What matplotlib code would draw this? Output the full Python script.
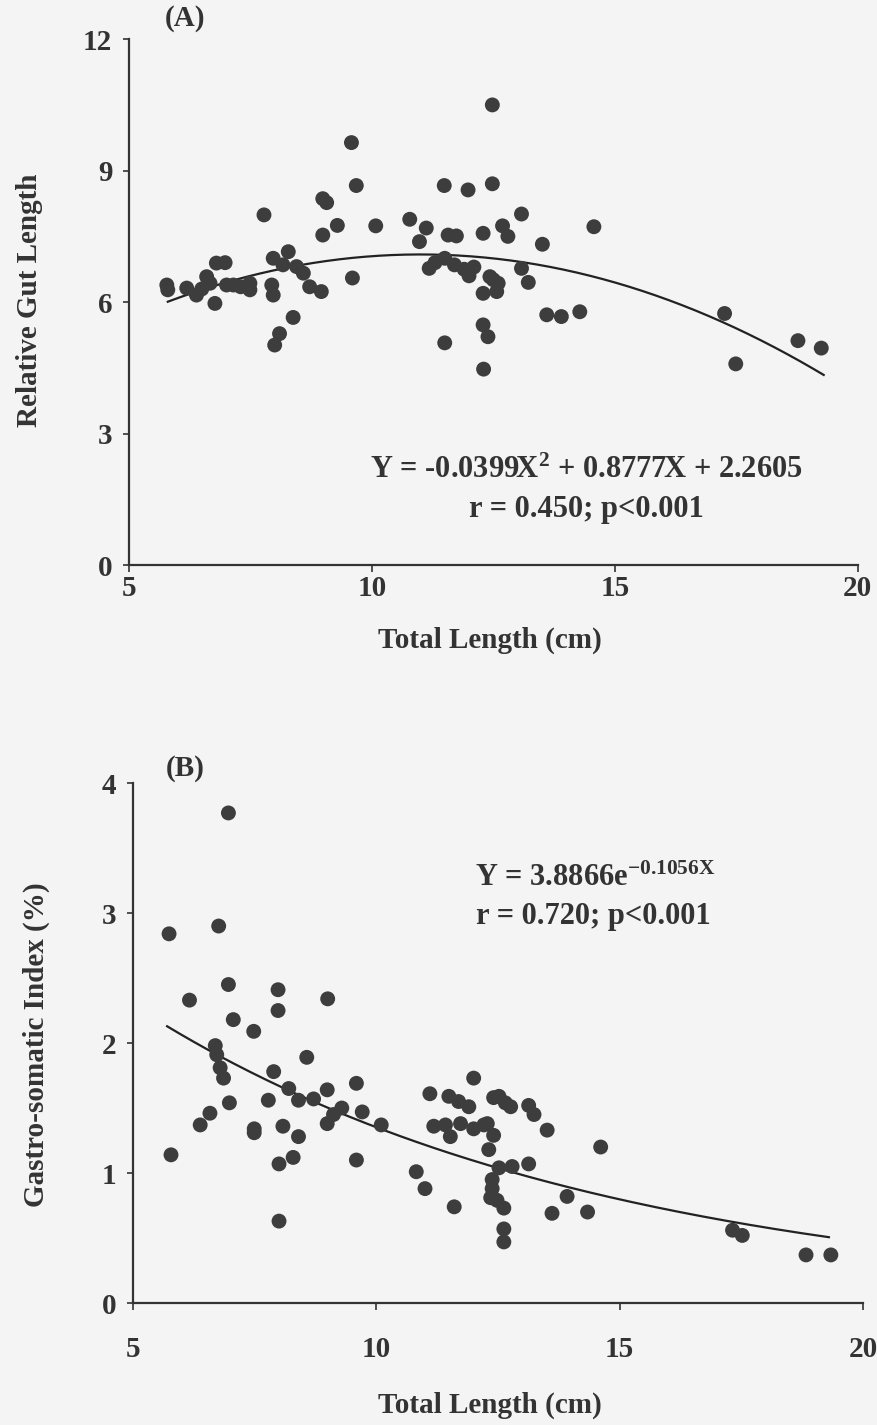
import numpy as np
import matplotlib
matplotlib.use('Agg')
import matplotlib.pyplot as plt

plt.rcParams['font.family'] = ['Liberation Serif', 'DejaVu Serif']
plt.rcParams['font.weight'] = 'bold'
plt.rcParams['mathtext.fontset'] = 'custom'
plt.rcParams['mathtext.rm'] = 'Liberation Serif:bold'
plt.rcParams['mathtext.it'] = 'Liberation Serif:bold'
plt.rcParams['mathtext.bf'] = 'Liberation Serif:bold'

# (A) relative gut length vs total length
rgl_x = [5.78, 6.19, 6.39, 6.77, 6.8, 6.98, 6.6, 6.67, 7.01, 7.15, 7.49, 7.49,
         7.94, 7.97, 7.97, 8.28, 8.17, 8.45, 8.59, 8.72, 8.96, 7.78, 8.38, 8.1, 8.0,
         9.58, 9.68, 8.99, 9.07, 9.29, 8.99, 10.08, 9.6, 10.78, 11.12, 10.98,
         11.49, 11.98, 12.48, 11.57, 11.74, 12.29, 11.18, 11.3, 11.5, 11.7, 11.9,
         12.1, 12.0, 12.48, 13.08, 12.69, 12.8, 13.51, 14.57, 13.08, 13.22, 12.43,
         12.6, 12.29, 12.57, 12.5, 13.6, 13.9, 14.28, 12.29, 12.39, 11.5, 12.3,
         17.26, 17.49, 18.77, 19.25, 5.8, 6.5, 7.3]
rgl_y = [6.39, 6.32, 6.16, 5.97, 6.89, 6.90, 6.58, 6.43, 6.39, 6.39, 6.43, 6.28,
         6.39, 6.16, 7.0, 7.15, 6.85, 6.81, 6.66, 6.35, 6.24, 7.99, 5.65, 5.28, 5.02,
         9.64, 8.66, 8.36, 8.27, 7.75, 7.53, 7.74, 6.55, 7.89, 7.69, 7.38,
         8.66, 8.56, 10.5, 7.53, 7.51, 7.57, 6.77, 6.9, 7.0, 6.85, 6.75,
         6.8, 6.6, 8.70, 8.01, 7.74, 7.5, 7.32, 7.72, 6.77, 6.45, 6.58,
         6.43, 6.2, 6.24, 6.51, 5.71, 5.67, 5.78, 5.48, 5.21, 5.07, 4.47,
         5.74, 4.59, 5.12, 4.95, 6.28, 6.3, 6.35]

# (B) gastro-somatic index vs total length
gsi_x = [6.96, 5.74, 6.76, 6.96, 7.98, 7.98, 9.0, 6.16, 7.06, 7.48, 6.69, 6.72,
         6.79, 6.86, 8.57, 7.89, 8.2, 8.4, 8.71, 8.99, 9.59, 7.78, 6.98, 6.58, 6.38,
         7.49, 7.49, 8.08, 8.4, 8.99, 9.12, 9.29, 9.71, 10.1, 5.78, 8.29, 8.0, 9.59,
         8.0, 10.82, 11.0, 11.6, 11.1, 12.0, 11.49, 11.69, 11.9, 11.18, 11.42, 11.52,
         11.73, 12.0, 12.21, 12.31, 12.41, 12.52, 12.65, 12.76, 13.13, 13.24, 13.51,
         14.61, 12.28, 12.41, 12.52, 12.79, 13.13, 12.38, 12.38, 12.35, 12.48, 12.62,
         12.62, 12.62, 13.92, 13.61, 14.34, 17.32, 17.52, 18.83, 19.34]
gsi_y = [3.77, 2.84, 2.90, 2.45, 2.41, 2.25, 2.34, 2.33, 2.18, 2.09, 1.98, 1.91,
         1.81, 1.73, 1.89, 1.78, 1.65, 1.56, 1.57, 1.64, 1.69, 1.56, 1.54, 1.46, 1.37,
         1.34, 1.31, 1.36, 1.28, 1.38, 1.45, 1.50, 1.47, 1.37, 1.14, 1.12, 1.07, 1.10,
         0.63, 1.01, 0.88, 0.74, 1.61, 1.73, 1.59, 1.55, 1.51, 1.36, 1.37, 1.28,
         1.38, 1.34, 1.37, 1.18, 1.58, 1.59, 1.54, 1.51, 1.52, 1.45, 1.33,
         1.20, 1.38, 1.29, 1.04, 1.05, 1.07, 0.95, 0.88, 0.81, 0.79, 0.73,
         0.57, 0.47, 0.82, 0.69, 0.70, 0.56, 0.52, 0.37, 0.37]

# fitted curves from the equations printed on the chart
quad_coef = [-0.0399, 0.8777, 2.2605]
exp_a, exp_b = 3.8866, -0.1056
fit_a_range = (5.8, 19.3)
fit_b_range = (5.7, 19.3)

bg = '#f4f4f4'
ink = '#333333'
dot = '#3d3d3d'
fs = 21

fig = plt.figure(figsize=(8.77, 14.25), dpi=100, facecolor=bg)
ax1 = fig.add_axes([0.147, 0.6035, 0.831, 0.369], facecolor=bg)
ax2 = fig.add_axes([0.1517, 0.0856, 0.8323, 0.3649], facecolor=bg)


def style(ax, yticks, xpad):
    for s in ['top', 'right']:
        ax.spines[s].set_visible(False)
    for s in ['left', 'bottom']:
        ax.spines[s].set_color(ink)
        ax.spines[s].set_linewidth(1.6)
    ax.set_xlim(5, 20)
    ax.set_xticks([5, 10, 15, 20])
    ax.set_yticks(yticks)
    ax.set_ylim(yticks[0], yticks[-1])
    ax.tick_params(axis='x', direction='out', length=5, width=1.2,
                   colors=ink, labelsize=fs, pad=xpad)
    ax.tick_params(axis='y', direction='out', length=4, width=1.2,
                   colors=ink, labelsize=fs, pad=8)
    for lab in ax.get_xticklabels() + ax.get_yticklabels():
        lab.set_fontweight('bold')


# panel A
ax1.scatter(rgl_x, rgl_y, s=115, color=dot, edgecolors='none', zorder=3, clip_on=False)
xa = np.linspace(*fit_a_range, 200)
ax1.plot(xa, np.polyval(quad_coef, xa), color='#222222', lw=1.6, zorder=2)
style(ax1, [0, 3, 6, 9, 12], 2)
ax1.text(14.42, 2.17, r'Y = -0.0399X$^{2}$ + 0.8777X + 2.2605', ha='center', va='center',
         fontsize=22, fontweight='bold', color=ink)
ax1.text(14.42, 1.26, 'r = 0.450; p<0.001', ha='center', va='center',
         fontsize=22, fontweight='bold', color=ink)
fig.text(490 / 877, 1 - 640 / 1425, 'Total Length (cm)', ha='center', va='center',
         fontsize=fs, fontweight='bold', color=ink)
fig.text(30 / 877, 1 - 300 / 1425, 'Relative Gut Length', ha='center', va='center',
         rotation=90, fontsize=fs, fontweight='bold', color=ink)
fig.text(185 / 877, 1 - 18 / 1425, '(A)', ha='center', va='center', fontsize=21,
         fontweight='bold', color=ink)

# panel B
ax2.scatter(gsi_x, gsi_y, s=115, color=dot, edgecolors='none', zorder=3, clip_on=False)
xb = np.linspace(*fit_b_range, 200)
ax2.plot(xb, exp_a * np.exp(exp_b * xb), color='#222222', lw=1.6, zorder=2)
style(ax2, [0, 1, 2, 3, 4], 19)
ax2.text(14.5, 3.27, r'Y = 3.8866e$^{-0.1056X}$', ha='center', va='center',
         fontsize=22, fontweight='bold', color=ink)
ax2.text(14.45, 2.97, 'r = 0.720; p<0.001', ha='center', va='center',
         fontsize=22, fontweight='bold', color=ink)
fig.text(490 / 877, 1 - 1405 / 1425, 'Total Length (cm)', ha='center', va='center',
         fontsize=fs, fontweight='bold', color=ink)
fig.text(36 / 877, 1 - 1045 / 1425, 'Gastro-somatic Index (%)', ha='center', va='center',
         rotation=90, fontsize=fs, fontweight='bold', color=ink)
fig.text(185 / 877, 1 - 768 / 1425, '(B)', ha='center', va='center', fontsize=21,
         fontweight='bold', color=ink)

fig.savefig('out.png', dpi=100, facecolor=bg)
